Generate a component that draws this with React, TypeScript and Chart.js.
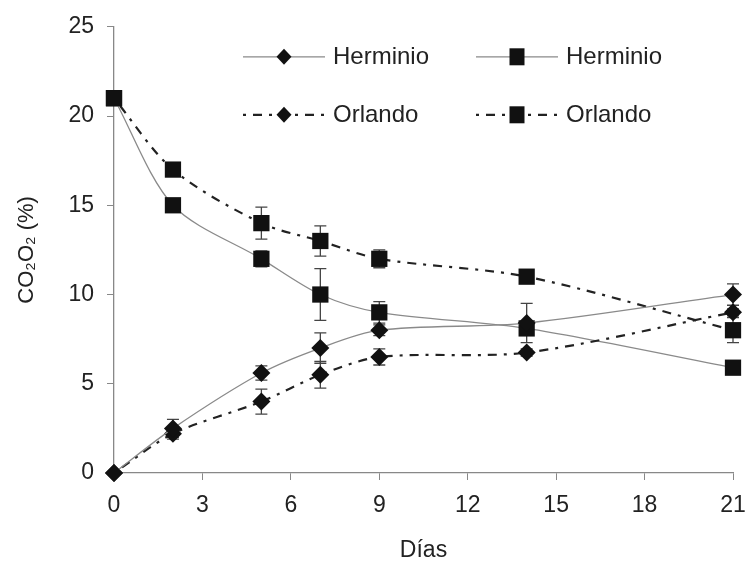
import React, { useEffect, useRef } from "react";
import { Chart, registerables } from "chart.js";

Chart.register(...registerables);

const days = [0, 2, 5, 7, 9, 14, 21];
const xTicks = [0, 3, 6, 9, 12, 15, 18, 21];
const yTicks = [0, 5, 10, 15, 20, 25];

const herminioCO2 = [0, 2.5, 5.6, 7, 8, 8.4, 10];
const orlandoCO2 = [0, 2.2, 4, 5.5, 6.5, 6.75, 9];
const herminioO2 = [21, 15, 12, 10, 9, 8.1, 5.9];
const orlandoO2 = [21, 17, 14, 13, 12, 11, 8];

const herminioCO2Err = [0, 0.5, 0.4, 0.85, 0.3, 1.1, 0.6];
const orlandoCO2Err = [0, 0.3, 0.7, 0.75, 0.45, 0.2, 0.2];
const herminioO2Err = [0, 0, 0.45, 1.45, 0.6, 0.3, 0.3];
const orlandoO2Err = [0, 0, 0.9, 0.85, 0.5, 0.2, 0.7];

const FONT = "'Liberation Sans', Arial, sans-serif";

function pts(values: number[]) {
  return values.map((v, i) => ({ x: days[i], y: v }));
}

const errorBars = {
  id: "errorBars",
  beforeDatasetsDraw(chart: any) {
    const ctx = chart.ctx;
    const ys = chart.scales.y;
    ctx.save();
    ctx.strokeStyle = "#444";
    ctx.lineWidth = 1.3;
    chart.data.datasets.forEach((ds: any, di: number) => {
      const meta = chart.getDatasetMeta(di);
      const errs: number[] = ds.errors || [];
      meta.data.forEach((el: any, i: number) => {
        const e = errs[i];
        if (!e) return;
        const v = ds.data[i].y;
        const top = ys.getPixelForValue(v + e);
        const bot = ys.getPixelForValue(v - e);
        const x = el.x;
        ctx.beginPath();
        ctx.moveTo(x, top);
        ctx.lineTo(x, bot);
        ctx.moveTo(x - 6, top);
        ctx.lineTo(x + 6, top);
        ctx.moveTo(x - 6, bot);
        ctx.lineTo(x + 6, bot);
        ctx.stroke();
      });
    });
    ctx.restore();
  },
};

const customLegend = {
  id: "customLegend",
  afterDraw(chart: any) {
    const ctx = chart.ctx;
    const ca = chart.chartArea;
    const cols = [ca.left + 129, ca.left + 362];
    const rows = [ca.top + 30, ca.top + 88];
    const order = [0, 2, 1, 3];
    ctx.save();
    order.forEach((di, k) => {
      const ds = chart.data.datasets[di];
      const col = k % 2;
      const row = Math.floor(k / 2);
      const x0 = cols[col];
      const y = rows[row];
      const x1 = x0 + 82;
      const mid = (x0 + x1) / 2;
      ctx.strokeStyle = ds.borderColor;
      ctx.lineWidth = ds.borderWidth;
      ctx.setLineDash(ds.borderDash || []);
      ctx.beginPath();
      ctx.moveTo(x0, y);
      ctx.lineTo(x1, y);
      ctx.stroke();
      ctx.setLineDash([]);
      ctx.fillStyle = "#111";
      ctx.beginPath();
      if (ds.pointStyle === "rect") {
        ctx.rect(mid - 7.5, y - 8.5, 15, 17);
      } else {
        ctx.moveTo(mid, y - 8);
        ctx.lineTo(mid + 7.5, y);
        ctx.lineTo(mid, y + 8);
        ctx.lineTo(mid - 7.5, y);
        ctx.closePath();
      }
      ctx.fill();
      ctx.fillStyle = "#222";
      ctx.font = `24px ${FONT}`;
      ctx.textBaseline = "middle";
      ctx.textAlign = "left";
      ctx.fillText(ds.label, x1 + 8, y + 1);
    });
    ctx.restore();
  },
};

export default function App() {
  const ref = useRef<HTMLCanvasElement | null>(null);
  useEffect(() => {
    if (!ref.current) return;
    const solid = { borderColor: "#8a8a8a", borderWidth: 1.3, borderDash: [] as number[] };
    const dotted = { borderColor: "#222", borderWidth: 2.2, borderDash: [3, 7, 9, 7] };
    const common = {
      pointBackgroundColor: "#111",
      pointBorderColor: "#111",
      pointBorderWidth: 0,
      tension: 0.3,
      clip: false,
    };
    const chart = new Chart(ref.current, {
      type: "line",
      data: {
        datasets: [
          {
            label: "Herminio",
            data: pts(herminioCO2),
            errors: herminioCO2Err,
            ...solid,
            ...common,
            pointStyle: "rectRot",
            pointRadius: 9,
          } as any,
          {
            label: "Orlando",
            data: pts(orlandoCO2),
            errors: orlandoCO2Err,
            ...dotted,
            ...common,
            pointStyle: "rectRot",
            pointRadius: 9,
          } as any,
          {
            label: "Herminio",
            data: pts(herminioO2),
            errors: herminioO2Err,
            ...solid,
            ...common,
            pointStyle: "rect",
            pointRadius: 11.5,
          } as any,
          {
            label: "Orlando",
            data: pts(orlandoO2),
            errors: orlandoO2Err,
            ...dotted,
            ...common,
            pointStyle: "rect",
            pointRadius: 11.5,
          } as any,
        ],
      },
      options: {
        animation: false,
        responsive: false,
        maintainAspectRatio: false,
        layout: { padding: { top: 25, right: 0, left: 0, bottom: 0 } },
        plugins: { legend: { display: false }, tooltip: { enabled: false } },
        scales: {
          x: {
            type: "linear",
            min: 0,
            max: 21,
            afterBuildTicks: (axis: any) => {
              axis.ticks = xTicks.map((v) => ({ value: v }));
            },
            afterFit: (axis: any) => {
              axis.height = 89;
              axis.paddingRight = 12;
              axis.paddingLeft = 0;
            },
            grid: {
              display: true,
              drawOnChartArea: false,
              drawTicks: true,
              tickLength: 7,
              color: "#888",
            },
            border: { display: true, color: "#888", width: 1.3 },
            ticks: {
              color: "#222",
              font: { family: FONT, size: 23 },
              padding: 12,
            },
            title: {
              display: true,
              text: "Días",
              color: "#222",
              font: { family: FONT, size: 23, lineHeight: 1 },
              padding: { top: 0, bottom: 0 },
            },
          },
          y: {
            type: "linear",
            min: 0,
            max: 25,
            afterBuildTicks: (axis: any) => {
              axis.ticks = yTicks.map((v) => ({ value: v }));
            },
            afterFit: (axis: any) => {
              axis.width = 114;
            },
            grid: {
              display: true,
              drawOnChartArea: false,
              drawTicks: true,
              tickLength: 7,
              color: "#888",
            },
            border: { display: true, color: "#888", width: 1.3 },
            ticks: {
              color: "#222",
              font: { family: FONT, size: 23 },
              padding: 13,
            },
            title: {
              display: true,
              text: "CO₂O₂ (%)",
              color: "#222",
              font: { family: FONT, size: 22, lineHeight: 1 },
              padding: { top: 16, bottom: 0 },
            },
          },
        },
      } as any,
      plugins: [errorBars, customLegend],
    });
    return () => chart.destroy();
  }, []);
  return (
    <div style={{ position: "fixed", left: 0, top: 0, width: 745, height: 562, background: "#fff" }}>
      <canvas ref={ref} width={745} height={562} style={{ width: 745, height: 562 }} />
    </div>
  );
}
